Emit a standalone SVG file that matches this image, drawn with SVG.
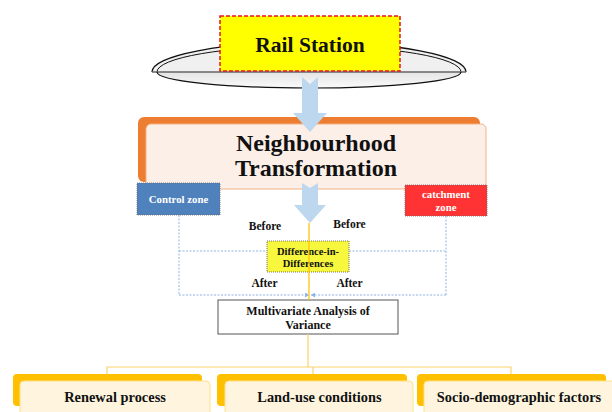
<svg xmlns="http://www.w3.org/2000/svg" width="612" height="412" viewBox="0 0 612 412">
<style>
text{font-family:"Liberation Serif","Times New Roman",serif;font-weight:bold;text-anchor:middle;}
.blk{fill:#111;}
.wht{fill:#fff;}
.dot{stroke:#8db3e2;stroke-width:1;stroke-dasharray:2,1.5;fill:none;}
.gold{stroke:#f9d36a;stroke-width:1.2;fill:none;}
.barrow{fill:#bdd7ee;}
.back{fill:#ffc000;}
.front{fill:#fff5df;stroke:#ffe08a;stroke-width:1;}
</style>
<defs>
<marker id="sm" markerWidth="5" markerHeight="5" refX="4" refY="2.5" orient="auto" markerUnits="userSpaceOnUse">
<path d="M0,0 L4,2.5 L0,5 Z" fill="#8db3e2"/>
</marker>
<linearGradient id="disc" x1="0" y1="0" x2="0" y2="1">
<stop offset="0" stop-color="#e4e4e4"/>
<stop offset="1" stop-color="#fafafa"/>
</linearGradient>
</defs>
<rect width="612" height="412" fill="#fff"/>

<g id="platform">
<path d="M152,72 A157,30 0 0 1 466,72 Z" fill="#f0f0f0" stroke="none"/>
<path d="M157,72 A152,16 0 0 0 461,72 Z" fill="url(#disc)" stroke="none"/>
<path d="M152,72 A157,30 0 0 1 466,72" fill="none" stroke="#111" stroke-width="1.3"/>
<path d="M157,72 A152,26 0 0 1 461,72" fill="none" stroke="#111" stroke-width="1"/>
<line x1="152" y1="72" x2="466" y2="72" stroke="#666" stroke-width="1.5"/>
<path d="M157,72 A152,16 0 0 0 461,72" fill="none" stroke="#111" stroke-width="1.2"/>
</g>

<g id="rail-station">
<rect x="220" y="16" width="180" height="55" fill="#ffff00" stroke="#e8141c" stroke-width="1.5" stroke-dasharray="4,2"/>
<text x="310" y="52" font-size="21.5" class="blk">Rail Station</text>
</g>

<g id="neighbourhood">
<rect x="138" y="117" width="342" height="65" rx="6" fill="#ed7d31"/>
<rect x="146" y="124" width="340" height="65" rx="5" fill="#fcefe8" stroke="#f4b183" stroke-width="1"/>
<text x="316" y="151" font-size="24" class="blk">Neighbourhood</text>
<text x="316" y="176" font-size="24" class="blk">Transformation</text>
</g>

<g id="control-zone">
<rect x="137" y="183" width="83" height="32" fill="#4f81bd" stroke="#6a6a6a" stroke-width="0.8" stroke-dasharray="1,1"/>
<text x="178.5" y="203" font-size="10.8" class="wht">Control zone</text>
</g>

<g id="catchment-zone">
<rect x="405" y="185" width="82" height="31" fill="#ff3333" stroke="#6a6a6a" stroke-width="0.8" stroke-dasharray="1,1"/>
<text x="446" y="197.5" font-size="10.8" class="wht">catchment</text>
<text x="446" y="211" font-size="10.8" class="wht">zone</text>
</g>

<g id="did">
<rect x="267" y="241" width="82" height="31" fill="#f7f73e" stroke="#555" stroke-width="0.8" stroke-dasharray="1,1"/>
<text x="308" y="255" font-size="10.5" class="blk">Difference-in-</text>
<text x="308" y="267" font-size="10.5" class="blk">Differences</text>
</g>

<g id="labels">
<text x="265" y="230" font-size="11.5" class="blk">Before</text>
<text x="349.5" y="228" font-size="11.5" class="blk">Before</text>
<text x="264.5" y="287" font-size="11.5" class="blk">After</text>
<text x="349.5" y="287" font-size="11.5" class="blk">After</text>
</g>

<g id="manova">
<rect x="218" y="300" width="180" height="34" fill="#fff" stroke="#555" stroke-width="1"/>
<text x="308" y="315" font-size="12" class="blk">Multivariate Analysis of</text>
<text x="308" y="329" font-size="12" class="blk">Variance</text>
</g>

<g id="renewal">
<rect class="back" x="13" y="374" width="189" height="32" rx="4"/>
<rect class="front" x="20" y="381" width="190" height="40" rx="4"/>
<text x="115" y="402" font-size="14.4" class="blk">Renewal process</text>
</g>

<g id="land-use">
<rect class="back" x="217" y="374" width="190" height="32" rx="4"/>
<rect class="front" x="225" y="381" width="188" height="40" rx="4"/>
<text x="319.5" y="402" font-size="14.4" class="blk">Land-use conditions</text>
</g>

<g id="socio">
<rect class="back" x="417" y="374" width="189" height="32" rx="4"/>
<rect class="front" x="424" y="381" width="194" height="40" rx="4"/>
<text x="519" y="402" font-size="14.4" class="blk">Socio-demographic factors</text>
</g>

<g id="connectors">
<path class="barrow" d="M302,77 L310,84 L318,77 L318,113 L327,113 L310,132 L293,113 L302,113 Z"/>
<path class="barrow" d="M302,183 L310,188 L318,183 L318,205 L326,205 L310,223 L294,205 L302,205 Z"/>
<line class="dot" x1="179" y1="215" x2="179" y2="295"/>
<line class="dot" x1="446" y1="216" x2="446" y2="295"/>
<line class="dot" x1="179" y1="251" x2="267" y2="251"/>
<line class="dot" x1="349" y1="251" x2="446" y2="251"/>
<line class="dot" x1="179" y1="295" x2="309" y2="295" marker-end="url(#sm)"/>
<line class="dot" x1="446" y1="295" x2="311" y2="295" marker-end="url(#sm)"/>
<line x1="309" y1="223" x2="309" y2="300" stroke="#ffc000" stroke-width="1.2"/>
<line class="gold" x1="308" y1="334" x2="308" y2="367"/>
<polyline class="gold" points="107,374 107,367 511,367 511,374"/>
<line class="gold" x1="313" y1="367" x2="313" y2="374"/>
</g>
</svg>
